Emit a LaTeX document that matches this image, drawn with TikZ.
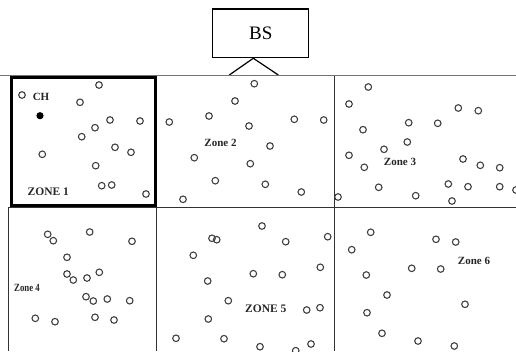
\documentclass[tikz,border=0pt]{standalone}
\usepackage{fontspec}
\setmainfont{Liberation Serif}
\begin{document}
\begin{tikzpicture}[x=1pt,y=-1pt,
  sensor/.style={draw=black!75,line width=1.1pt},
  grid/.style={draw=black!80,line width=1pt},
  zlabel/.style={inner sep=0pt,text=black!85,font=\fontsize{11}{11}\selectfont\bfseries},
  Zlabel/.style={inner sep=0pt,text=black!85,font=\fontsize{11.5}{11.5}\selectfont\bfseries}]
\useasboundingbox (0,0) rectangle (516,351);
% base station
\node[draw,line width=1.2pt,minimum width=96pt,minimum height=48.7pt,inner sep=0pt,
  font=\fontsize{19}{19}\selectfont] (bs) at (260.7,33.3) {BS};
\draw[line width=1.2pt] (229.3,75) -- (bs.south -| 253.3,0) -- (278.3,75);
% grid
\draw[draw=black!55,line width=1pt] (0,75.5) -- (516,75.5);
\draw[grid] (156.5,75.5) -- (156.5,351);
\draw[grid] (334,75.5) -- (334,351);
\draw[grid] (8.5,207) -- (516,207);
\draw[grid] (8.5,207) -- (8.5,351);
\draw[line width=3pt] (11,77.5) rectangle (155.3,205.5);
% labels
\node[zlabel] (ch) at (41,97) {CH};
\node[Zlabel] (z1) at (48.3,191.5) {ZONE 1};
\node[zlabel] (z2) at (220.5,143) {Zone 2};
\node[zlabel] (z3) at (400,162) {Zone 3};
\node[zlabel,xscale=0.8] (z4) at (27,288) {Zone 4};
\node[Zlabel] (z5) at (265.8,309) {ZONE 5};
\node[zlabel] (z6) at (474,261) {Zone 6};
% cluster head
\fill (40,115.7) circle[radius=3.6pt];
% sensors
\foreach \p in {
 (22,95),(99,85),(80,102.3),(110,120),(140,121),(95,127.7),(81.7,136.7),
 (115,147.3),(131,152.3),(42.3,154.3),(95.7,165.7),(101.7,185.7),(111.7,185),(146,194),
 (254.3,83.7),(235,101),(169.3,122),(209,116),(249,126),(294.3,119.3),(323.7,120),
 (270,146),(194.3,157.7),(250.3,163.7),(215.3,180.7),(265.3,184.3),(301.3,192),(183,199.3),
 (368.3,87),(349,104),(458.3,108),(478.3,110.7),(408.7,122.7),(437.7,123.3),(363,129.7),
 (407.3,142),(384,149.3),(349,155.3),(364.3,167.3),(463,159),(480.3,165.3),(499.7,167.7),
 (378.7,187.3),(448.3,184),(468,186.7),(499.7,186.7),(338,197),(415.7,195.7),(452,201),(516,190),
 (47.7,234.3),(53.3,240.7),(89.7,232),(132,241.3),(67,257.3),(67,274),(73.3,280),(87,278),
 (99.3,272.3),(86,296.7),(93.3,301),(107.3,299),(129.7,300.7),(35.3,318.3),(55,321.7),
 (95,317.3),(114,320),
 (262,226),(212,238.3),(216.7,239.7),(285.7,241.7),(327.7,236.7),(193.3,255.3),(253.3,273.7),
 (282.3,274.7),(320.3,267.3),(207.7,281),(228.3,300.7),(306.7,310),(320,307.7),(208.3,319),
 (176,338.3),(224,338.7),(260,346.7),(295.7,350.7),(311,344),
 (370.7,232.3),(351.7,249.7),(436,239.3),(455.7,242),(411.7,268.3),(440.7,269),(366.3,275),
 (387,295),(465,304.3),(367,312.7),(382,333.3),(418,341),(454.3,346)}
 \draw[sensor] \p circle[radius=3.3pt];
\end{tikzpicture}
\end{document}
